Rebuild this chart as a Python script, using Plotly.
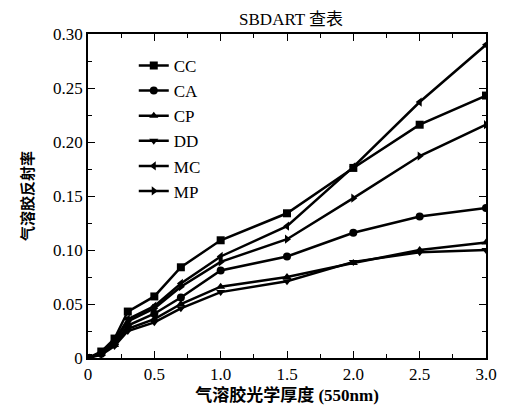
import plotly.graph_objects as go

aod = [0, 0.1, 0.2, 0.3, 0.5, 0.7, 1.0, 1.5, 2.0, 2.5, 3.0]
series_names = ["CC", "CA", "CP", "DD", "MC", "MP"]
CC = [0.0, 0.006, 0.018, 0.043, 0.057, 0.084, 0.109, 0.134, 0.176, 0.216, 0.243]
CA = [0.0, 0.004, 0.013, 0.030, 0.041, 0.056, 0.081, 0.094, 0.116, 0.131, 0.139]
CP = [0.0, 0.004, 0.012, 0.027, 0.036, 0.050, 0.066, 0.075, 0.088, 0.100, 0.107]
DD = [0.0, 0.003, 0.011, 0.025, 0.033, 0.046, 0.061, 0.071, 0.089, 0.098, 0.100]
MC = [0.0, 0.005, 0.016, 0.036, 0.048, 0.069, 0.094, 0.122, 0.177, 0.237, 0.290]
MP = [0.0, 0.005, 0.015, 0.034, 0.046, 0.066, 0.089, 0.110, 0.148, 0.187, 0.216]
values = {"CC": CC, "CA": CA, "CP": CP, "DD": DD, "MC": MC, "MP": MP}
symbols = {"CC": "square", "CA": "circle", "CP": "triangle-up", "DD": "triangle-down",
           "MC": "triangle-left", "MP": "triangle-right"}

x_tickvals = [0, 0.5, 1.0, 1.5, 2.0, 2.5, 3.0]
x_ticktext = ["0", "0.5", "1.0", "1.5", "2.0", "2.5", "3.0"]
y_tickvals = [0, 0.05, 0.10, 0.15, 0.20, 0.25, 0.30]
y_ticktext = ["0", "0.05", "0.10", "0.15", "0.20", "0.25", "0.30"]

fig = go.Figure()
for name in series_names:
    fig.add_trace(go.Scatter(
        x=aod, y=values[name], name=name, mode="lines+markers",
        legendgroup=name,
        line=dict(color="black", width=2.5),
        marker=dict(symbol=symbols[name], size=8, color="black"),
    ))

serif = "Liberation Serif, Times New Roman, serif"
mixed = "Liberation Serif, Noto Sans CJK SC, serif"
axis_common = dict(
    showline=True, linecolor="black", linewidth=1.5, mirror="ticks",
    ticks="inside", ticklen=7, tickwidth=1.3, tickcolor="black",
    showgrid=False, zeroline=False,
    tickfont=dict(family=serif, size=17, color="black"),
)
fig.update_xaxes(
    range=[0, 3.0], tickvals=x_tickvals, ticktext=x_ticktext,
    minor=dict(ticks="inside", ticklen=4, tickwidth=1.2, tickcolor="black", dtick=0.25, tick0=0),
    title=dict(text="<b>气溶胶光学厚度 (550nm)</b>", font=dict(family=mixed, size=17, color="black"), standoff=6),
    **axis_common,
)
fig.update_yaxes(
    range=[0, 0.30], tickvals=y_tickvals, ticktext=y_ticktext,
    minor=dict(ticks="inside", ticklen=4, tickwidth=1.2, tickcolor="black", dtick=0.025, tick0=0),
    title=dict(text="<b>气溶胶反射率</b>", font=dict(family=mixed, size=15, color="black"), standoff=16),
    **axis_common,
)
fig.update_layout(
    width=501, height=407,
    margin=dict(l=80, r=14, t=26, b=57),
    paper_bgcolor="white", plot_bgcolor="white",
    title=dict(text="SBDART 查表", x=0.565, xanchor="center", y=0.972, yanchor="middle",
               font=dict(family=mixed, size=17, color="black")),
    showlegend=True,
    legend=dict(x=0.115, y=0.957, xanchor="left", yanchor="top",
                bgcolor="rgba(0,0,0,0)", tracegroupgap=0,
                font=dict(family=serif, size=17, color="black")),
)
fig.write_html("out.html")
